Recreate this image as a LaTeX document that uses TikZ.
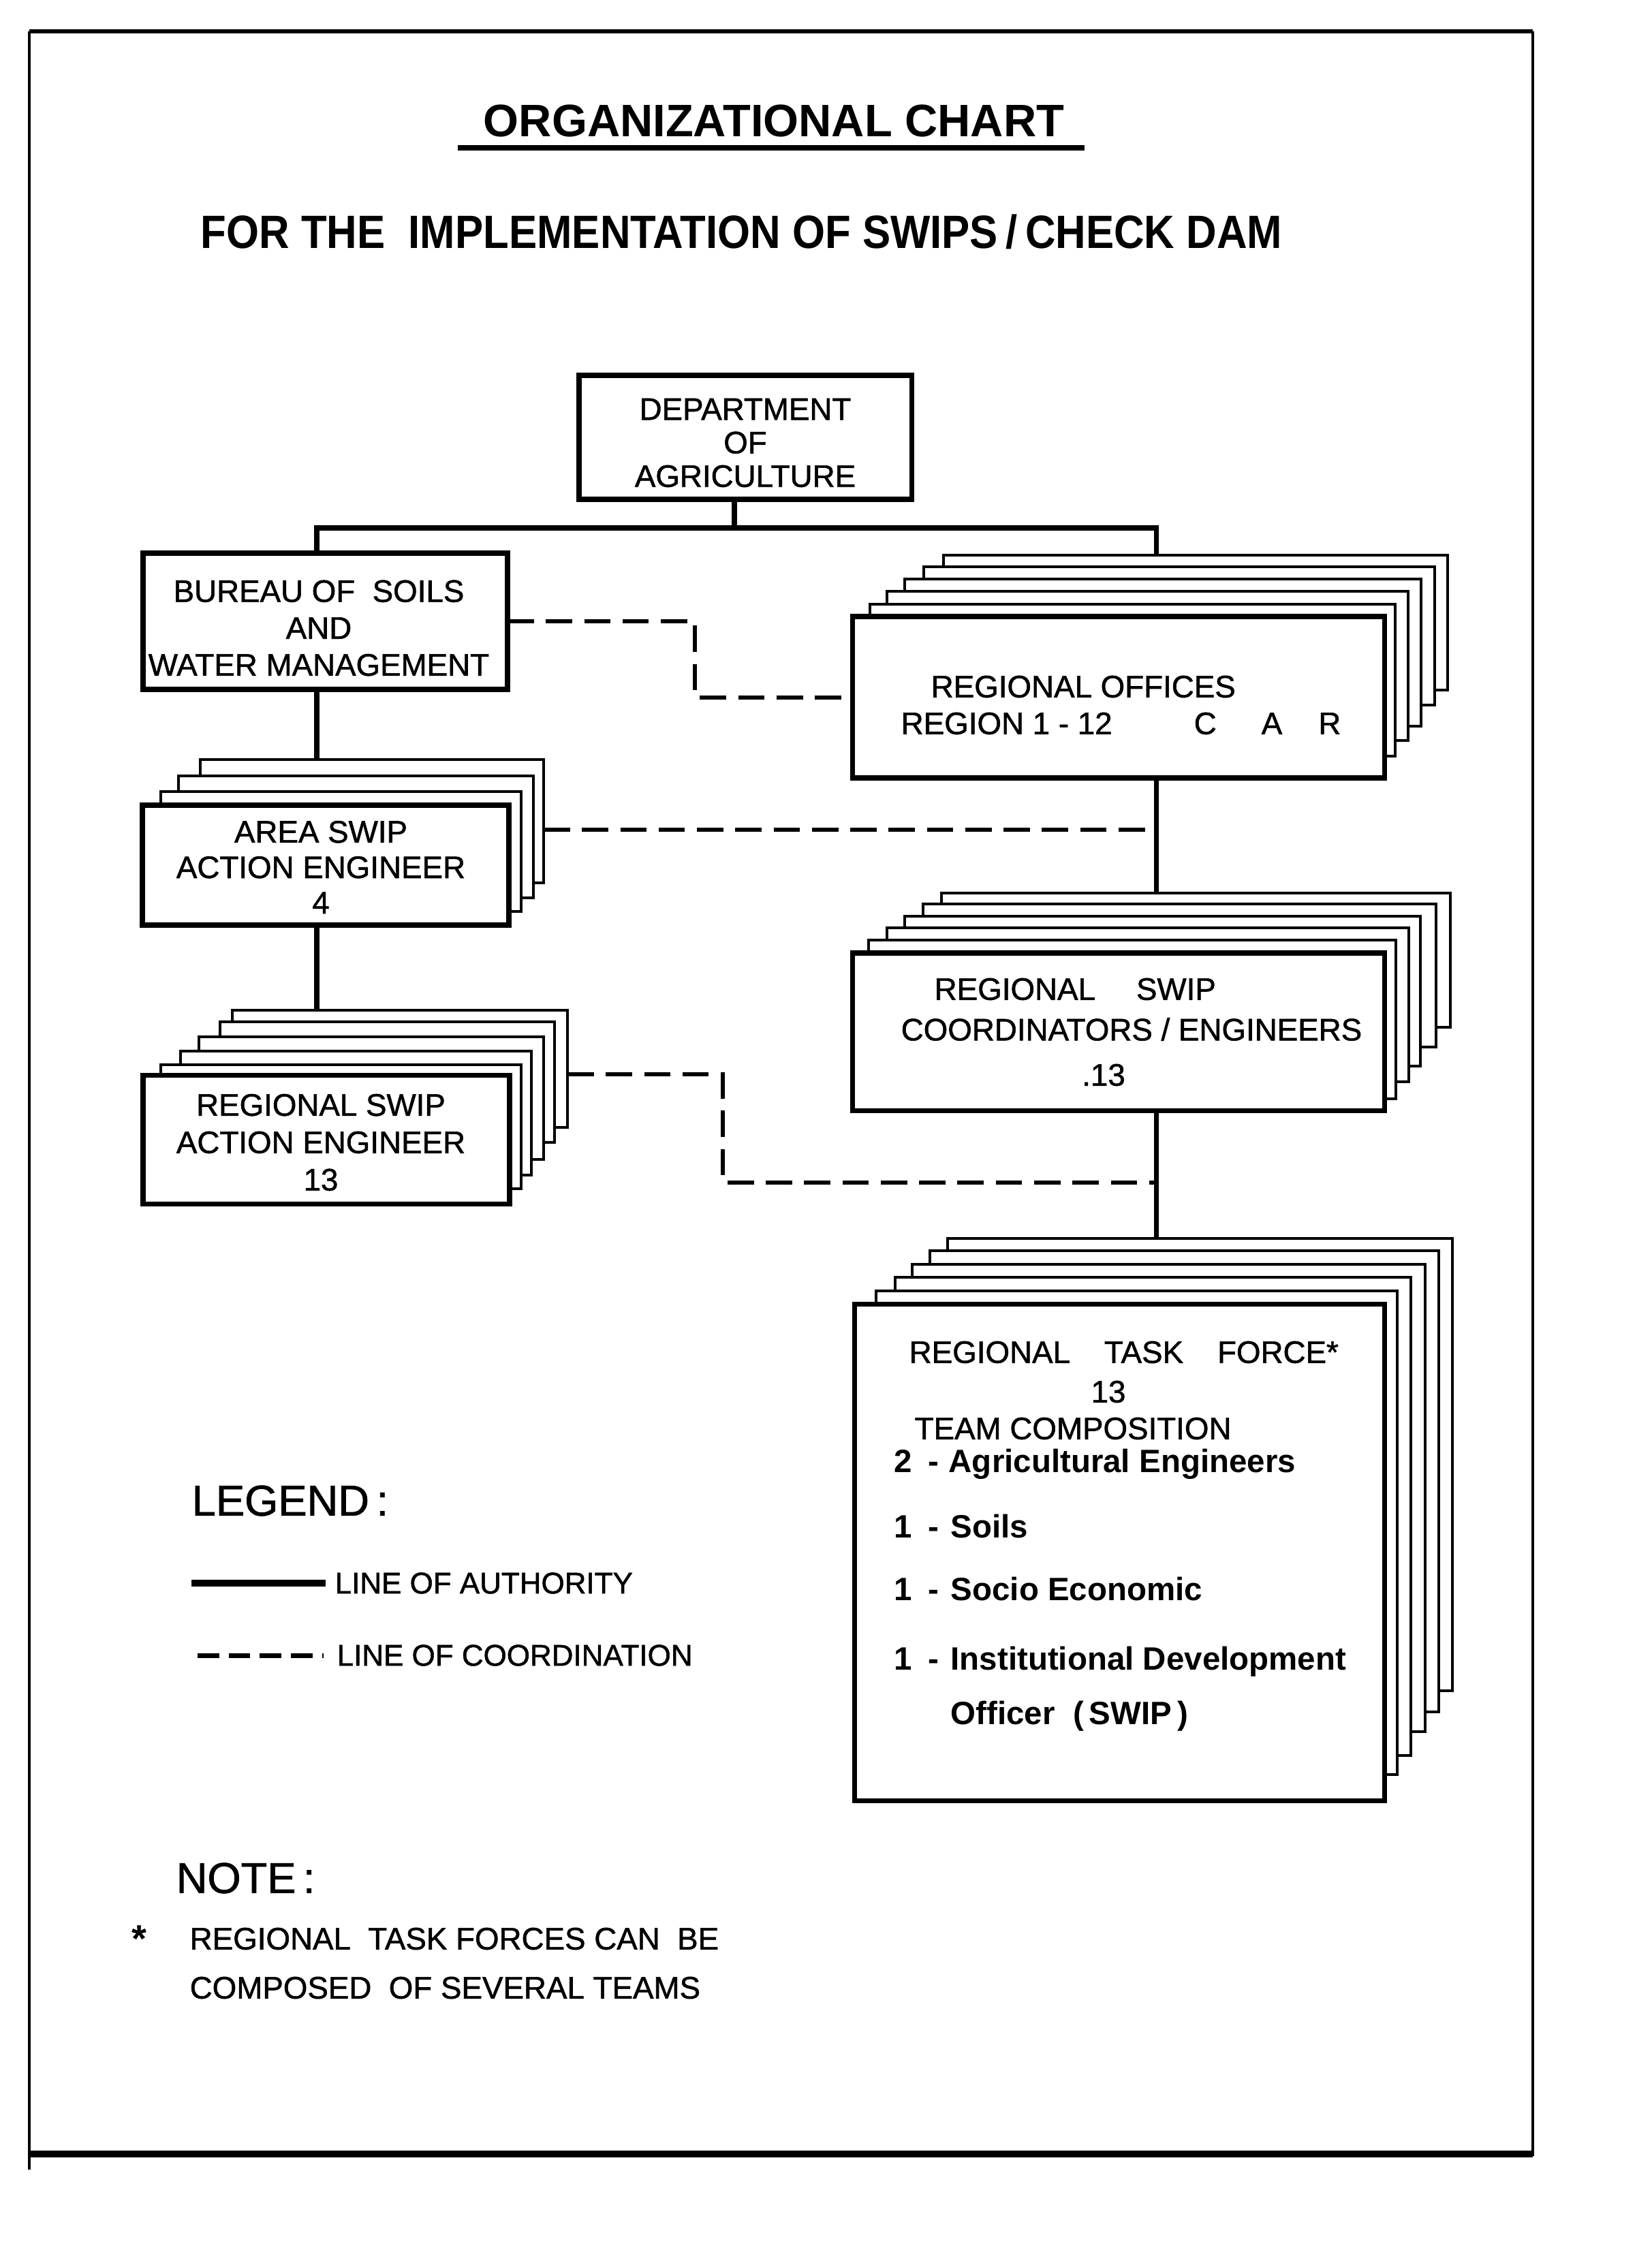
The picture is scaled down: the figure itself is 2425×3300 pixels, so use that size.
\documentclass[tikz,border=0pt]{standalone}
\usepackage{fontspec}
\setmainfont{Liberation Sans}
\newfontfamily\narrowfont{Liberation Sans}[FakeStretch=0.9]
\newfontfamily\lettering{Liberation Sans}[FakeBold=1.2]
\newcommand\mkbox[6]{%
  \node[#1, minimum width={(#5-#3)*0.01cm}, minimum height={(#6-#4)*0.01cm}] (#2) at ({(#3+#5)/2},{(#4+#6)/2}) {};}
\tikzset{
  front/.style={draw, fill=white, line width=2pt, inner sep=0pt, outer sep=0pt},
  sheet/.style={draw, fill=white, line width=0.9pt, inner sep=0pt, outer sep=0pt},
  auth/.style={line width=2pt},
  coord/.style={line width=1.7pt, dash pattern=on 11pt off 5pt},
  lbl/.style={inner sep=0pt, align=center},
  txt/.style={inner sep=0pt, anchor=west, font=\lettering\fontsize{13}{15}\selectfont},
  bt/.style={inner sep=0pt, anchor=west, font=\bfseries\fontsize{13.5}{15}\selectfont},
}
\begin{document}
\begin{tikzpicture}[x=0.01cm,y=-0.01cm]
\useasboundingbox (0,0) rectangle (2425,3300);
\fill[white] (0,0) rectangle (2425,3300);
% frame
\draw[line width=1pt] (43,46) -- (43,3185);
\draw[line width=1pt] (2250,46) -- (2250,3165);
\draw[line width=1.5pt] (43,46) -- (2250,46);
\draw[line width=2.8pt] (43,3162) -- (2250,3162);
% titles
\node[inner sep=0pt, font=\bfseries\fontsize{19}{22}\selectfont] (title) at (1136,177) {ORGANIZATIONAL CHART};
\draw[line width=2.2pt] (672,217) -- (1592,217);
\node[inner sep=0pt, anchor=west, font=\narrowfont\bfseries\fontsize{19.5}{22}\selectfont] (sub) at (294,340) {FOR THE\ \ IMPLEMENTATION OF SWIPS\,/\,CHECK DAM};
% department
\mkbox{front}{dept}{850}{551}{1338}{733}
\node[lbl, font=\lettering\fontsize{13}{14}\selectfont] (deptT) at (1094,650) {DEPARTMENT\\OF\\AGRICULTURE};
% bureau
\mkbox{front}{bur}{210}{812}{745}{1012}
\node[lbl, font=\lettering\fontsize{13}{15.4}\selectfont] (burT) at (468,922) {BUREAU OF\ \ SOILS\\AND\\WATER MANAGEMENT};
% regional offices
\mkbox{sheet}{ro5}{1385}{815}{2125}{1013}
\mkbox{sheet}{ro4}{1356}{832}{2106}{1035}
\mkbox{sheet}{ro3}{1328}{850}{2086}{1066}
\mkbox{sheet}{ro2}{1302}{868}{2067}{1087}
\mkbox{sheet}{ro1}{1277}{887}{2048}{1110}
\mkbox{front}{ro}{1251}{905}{2032}{1142}
\node[txt] (roT1) at (1366,1008) {REGIONAL OFFICES};
\node[txt] (roT2) at (1322,1062) {REGION 1 - 12\hspace{1.2cm}C\hspace{0.66cm}A\hspace{0.53cm}R};
% coordinators
\mkbox{sheet}{co5}{1382}{1311}{2129}{1508}
\mkbox{sheet}{co4}{1355}{1327}{2108}{1537}
\mkbox{sheet}{co3}{1328}{1345}{2085}{1565}
\mkbox{sheet}{co2}{1302}{1362}{2068}{1588}
\mkbox{sheet}{co1}{1275}{1380}{2049}{1613}
\mkbox{front}{co}{1251}{1399}{2032}{1630}
\node[txt] (coT1) at (1371,1452) {REGIONAL\hspace{0.6cm}SWIP};
\node[txt] (coT2) at (1322,1511) {COORDINATORS / ENGINEERS};
\node[inner sep=0pt, font=\lettering\fontsize{13}{15}\selectfont] (coT3) at (1620,1578) {.13};
% area swip
\mkbox{sheet}{ar3}{294}{1115}{798}{1296}
\mkbox{sheet}{ar2}{262}{1139}{783}{1318}
\mkbox{sheet}{ar1}{236}{1162}{765}{1338}
\mkbox{front}{ar}{209}{1182}{747}{1358}
\node[lbl, font=\lettering\fontsize{13}{14.8}\selectfont] (arT) at (471,1273) {AREA SWIP\\ACTION ENGINEER\\4};
% regional swip action engineer
\mkbox{sheet}{rs5}{341}{1483}{833}{1655}
\mkbox{sheet}{rs4}{323}{1500}{814}{1677}
\mkbox{sheet}{rs3}{292}{1522}{798}{1702}
\mkbox{sheet}{rs2}{265}{1543}{780}{1725}
\mkbox{sheet}{rs1}{236}{1563}{765}{1745}
\mkbox{front}{rs}{210}{1578}{748}{1767}
\node[lbl, font=\lettering\fontsize{13}{15.6}\selectfont] (rsT) at (471,1677) {REGIONAL SWIP\\ACTION ENGINEER\\13};
% task force
\mkbox{sheet}{tf5}{1391}{1818}{2132}{2482}
\mkbox{sheet}{tf4}{1365}{1836}{2112}{2513}
\mkbox{sheet}{tf3}{1339}{1856}{2092}{2542}
\mkbox{sheet}{tf2}{1314}{1875}{2071}{2577}
\mkbox{sheet}{tf1}{1286}{1895}{2051}{2605}
\mkbox{front}{tf}{1254}{1914}{2032}{2643}
\node[txt] (tfT1) at (1334,1985) {REGIONAL\hspace{0.5cm}TASK\hspace{0.5cm}FORCE*};
\node[inner sep=0pt, font=\lettering\fontsize{13}{15}\selectfont] (tfT2) at (1627,2043) {13};
\node[txt] (tfT3) at (1342,2097) {TEAM COMPOSITION};
\node[bt] (tfT4) at (1312,2149) {\makebox[0.8cm][l]{2\enspace-}Agricultural Engineers};
\node[bt] (tfT5) at (1312,2241) {\makebox[0.83cm][l]{1\enspace-}Soils};
\node[bt] (tfT6) at (1312,2333) {\makebox[0.83cm][l]{1\enspace-}Socio Economic};
\node[bt] (tfT7) at (1312,2439) {\makebox[0.83cm][l]{1\enspace-}Institutional Development};
\node[bt] (tfT8) at (1395,2519) {Officer\ \ (\,SWIP\,)};
% connectors: authority
\coordinate (jl) at (465,775);
\coordinate (jr) at (1697,775);
\coordinate (jd) at (1078,775);
\draw[auth] (jd |- dept.south) -- (jd);
\draw[auth] (bur.north -| jl) -- (jl) -- (jr) -- (ro5.north -| jr);
\draw[auth] (bur.south -| jl) -- (ar3.north -| jl);
\draw[auth] (ar.south -| jl) -- (rs5.north -| jl);
\draw[auth] (ro.south -| jr) -- (co5.north -| jr);
\draw[auth] (co.south -| jr) -- (tf5.north -| jr);
% connectors: coordination
\coordinate (c1) at (1020,960);
\draw[coord] (bur.east) -| (c1) |- (ro.west);
\coordinate (c2) at (1697,1218);
\draw[coord] (c2 -| ar3.east) -- (c2);
\coordinate (c3) at (1061,1577);
\coordinate (c4) at (1697,1736);
\draw[coord] (c3 -| rs5.east) -- (c3) |- (c4);
% legend
\node[inner sep=0pt, anchor=west, font=\lettering\fontsize{18}{20}\selectfont] (leg) at (281,2203) {LEGEND\,:};
\coordinate (la1) at (281,2324);
\coordinate (la2) at (478,2324);
\draw[line width=3pt] (la1) -- (la2);
\node[txt, font=\lettering\fontsize{12.5}{14}\selectfont] (laT) at (491,2324) {LINE OF AUTHORITY};
\coordinate (lc1) at (290,2430);
\coordinate (lc2) at (475,2430);
\draw[line width=2pt, dash pattern=on 9pt off 4pt] (lc1) -- (lc2);
\node[txt, font=\lettering\fontsize{12.5}{14}\selectfont] (lcT) at (494,2430) {LINE OF COORDINATION};
% note
\node[inner sep=0pt, anchor=west, font=\lettering\fontsize{18}{20}\selectfont] (note) at (258,2757) {NOTE\,:};
\node[inner sep=0pt, font=\bfseries\fontsize{16}{16}\selectfont] (ast) at (204,2846) {*};
\node[txt] (n1) at (278,2846) {REGIONAL\ \ TASK FORCES CAN\ \ BE};
\node[txt] (n2) at (278,2918) {COMPOSED\ \ OF SEVERAL TEAMS};
\end{tikzpicture}
\end{document}
